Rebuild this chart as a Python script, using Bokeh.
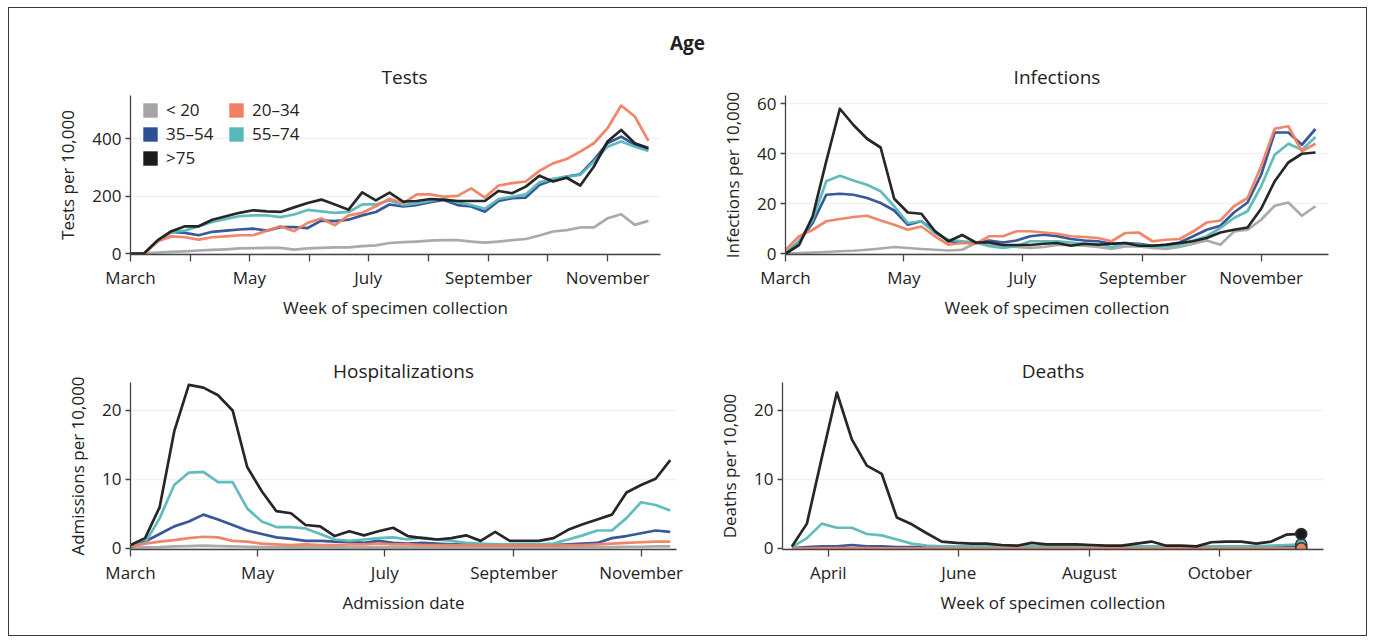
import pandas as pd
from bokeh.plotting import figure
from bokeh.models import Range1d, FixedTicker, Legend, LegendItem, Div
from bokeh.layouts import column, row
from bokeh.embed import file_html
from bokeh.resources import INLINE

FONT = "Open Sans"

AGE_GROUPS = ["< 20", "20–34", "35–54", "55–74", ">75"]
AGE_COLORS = ["#a5a5a5", "#ef8062", "#2d4f93", "#59b8b9", "#1b1b1b"]
DRAW_ORDER = [0, 2, 3, 1, 4]

MONTH_NAMES = ["March", "April", "May", "June", "July", "August",
               "September", "October", "November"]

# ---------------- Tests (weekly, per 10,000) ----------------
tests_start = "2020-03-01"
tests_lt20 = [0, 2, 5, 7, 9, 12, 14, 16, 19, 20, 21, 21, 15, 19, 21, 23, 23, 27, 30, 38,
              41, 43, 46, 48, 48, 43, 39, 43, 48, 52, 64, 78, 83, 92, 92, 124, 138, 101, 115]
tests_20_34 = [0, 0, 44, 61, 58, 50, 58, 61, 65, 65, 81, 96, 79, 108, 123, 100, 134, 143, 166, 192,
               176, 207, 207, 199, 202, 228, 196, 238, 246, 252, 289, 315, 330, 356, 385, 437, 516, 478, 393]
tests_35_54 = [0, 2, 44, 77, 73, 65, 77, 81, 85, 88, 81, 93, 93, 90, 116, 114, 119, 134, 146, 172,
               165, 170, 180, 188, 170, 165, 147, 184, 194, 196, 240, 257, 269, 277, 327, 385, 408, 379, 362]
tests_55_74 = [0, 2, 44, 77, 81, 96, 111, 122, 131, 134, 134, 128, 137, 153, 148, 143, 146, 172, 172, 186,
               170, 176, 184, 191, 180, 170, 157, 191, 199, 207, 249, 261, 269, 275, 321, 373, 391, 373, 358]
tests_75plus = [0, 2, 48, 79, 96, 96, 119, 131, 143, 152, 148, 146, 162, 177, 189, 172, 154, 214, 186, 213,
                182, 184, 191, 188, 184, 184, 184, 219, 211, 234, 272, 252, 265, 238, 304, 391, 431, 385, 368]

# ---------------- Infections ----------------
inf_start = "2020-03-01"
inf_lt20 = [0, 0.3, 0.5, 0.7, 1, 1.2, 1.6, 2.1, 2.7, 2.3, 1.9, 1.6, 1.3, 1.6, 4.3, 3.6, 3, 2.7, 2.3, 2.7,
            3.5, 3.6, 3.2, 2.7, 1.9, 2.9, 2.9, 2.3, 1.9, 2.7, 4, 5.3, 3.6, 8.9, 9.6, 13.6, 19.2, 20.5, 15.2, 19]
inf_20_34 = [1.5, 7, 9.6, 13, 13.9, 14.7, 15.2, 13.3, 11.6, 9.6, 10.9, 7, 3.6, 4.3, 4, 7, 7, 9, 9, 8.5,
             8, 7, 6.7, 6.3, 5, 8.3, 8.5, 5, 5.6, 5.9, 8.9, 12.5, 13.3, 19, 22.3, 35, 50, 51, 41, 44]
inf_35_54 = [0, 5, 12.3, 23.6, 24, 23.6, 22.3, 20.3, 17.3, 11.6, 13, 9, 5, 4.5, 4.3, 5.3, 4.5, 5.3, 7, 7.6,
             7, 5.9, 5.3, 5, 4, 4.3, 4, 3.2, 3.6, 4.5, 7, 9.6, 11.2, 16.5, 20.5, 31.6, 48.5, 48.5, 43.6, 49.9]
inf_55_74 = [0, 5, 13.6, 29, 31.2, 29.3, 27.6, 25, 19, 12.3, 13, 8.3, 5.6, 5, 4.5, 3, 2.3, 3, 5, 5,
             5, 4.5, 4, 4, 2.7, 4, 3.6, 2.9, 2.9, 3.6, 5.3, 7, 10.3, 14.3, 17, 27, 39.6, 44, 41.6, 46.7]
inf_75plus = [0, 3.5, 15, 37, 58, 51.5, 46, 42.5, 22, 16.5, 16, 9, 5, 7.5, 4.5, 4.5, 3.5, 3.5, 3.5, 4,
              4.3, 3.2, 4, 3.6, 4, 4.3, 3.2, 3.2, 3.6, 4.3, 5, 6.3, 8.5, 9.6, 10.5, 18, 29, 36.5, 40, 40.5]

# ---------------- Hospitalizations ----------------
hosp_start = "2020-03-01"
hosp_lt20 = [0.1, 0.15, 0.2, 0.3, 0.35, 0.4, 0.35, 0.3, 0.25, 0.2, 0.2, 0.15, 0.15, 0.15, 0.15, 0.15, 0.15, 0.15, 0.15,
             0.15, 0.15, 0.15, 0.15, 0.15, 0.15, 0.15, 0.15, 0.15, 0.15, 0.15, 0.15, 0.2, 0.2, 0.2, 0.25, 0.25, 0.3, 0.3]
hosp_20_34 = [0.3, 0.7, 1.0, 1.2, 1.5, 1.7, 1.6, 1.1, 1.0, 0.7, 0.6, 0.5, 0.6, 0.5, 0.5, 0.6, 0.6, 0.7, 0.6,
              0.6, 0.5, 0.5, 0.5, 0.5, 0.4, 0.4, 0.4, 0.4, 0.4, 0.4, 0.5, 0.5, 0.6, 0.7, 0.8, 0.9, 1.0, 1.0]
hosp_35_54 = [0.2, 1, 2.1, 3.2, 3.9, 4.9, 4.2, 3.4, 2.6, 2.1, 1.6, 1.4, 1.1, 1.1, 1.0, 1.0, 0.8, 1.1, 0.8,
              0.7, 0.8, 0.7, 0.6, 0.6, 0.5, 0.5, 0.5, 0.5, 0.5, 0.5, 0.6, 0.7, 0.8, 1.5, 1.8, 2.2, 2.6, 2.4]
hosp_55_74 = [0.3, 0.8, 4.4, 9.2, 11, 11.1, 9.6, 9.6, 5.8, 3.9, 3.1, 3.1, 2.9, 2.1, 1.3, 1.1, 1.3, 1.5, 1.6,
              1.3, 1.6, 1.3, 1.1, 0.8, 0.7, 0.6, 0.6, 0.6, 0.6, 0.7, 1.3, 1.9, 2.6, 2.6, 4.4, 6.7, 6.3, 5.5]
hosp_75plus = [0.5, 1.5, 6, 17, 23.7, 23.3, 22.2, 20, 11.8, 8.3, 5.4, 5.1, 3.4, 3.2, 1.8, 2.5, 1.9, 2.5, 3.0,
               1.8, 1.5, 1.3, 1.5, 1.9, 1.1, 2.4, 1.1, 1.1, 1.1, 1.5, 2.7, 3.5, 4.2, 4.9, 8.1, 9.2, 10.1, 12.8]

# ---------------- Deaths ----------------
deaths_start = "2020-03-15"
deaths_lt20 = [0.0] * 35
deaths_20_34 = [0.02, 0.03, 0.05, 0.05, 0.05, 0.04, 0.03, 0.03, 0.02, 0.02, 0.02, 0.02, 0.02, 0.02, 0.02, 0.02, 0.02, 0.02,
                0.02, 0.02, 0.02, 0.02, 0.02, 0.02, 0.02, 0.02, 0.02, 0.02, 0.02, 0.02, 0.02, 0.02, 0.02, 0.03, 0.03]
deaths_35_54 = [0.05, 0.2, 0.3, 0.3, 0.5, 0.3, 0.3, 0.2, 0.2, 0.15, 0.1, 0.1, 0.1, 0.1, 0.1, 0.1, 0.1, 0.1,
                0.1, 0.1, 0.1, 0.1, 0.1, 0.1, 0.1, 0.1, 0.1, 0.1, 0.1, 0.1, 0.1, 0.15, 0.2, 0.3, 0.4]
deaths_55_74 = [0.2, 1.5, 3.6, 3.0, 3.0, 2.1, 1.9, 1.3, 0.7, 0.4, 0.3, 0.3, 0.3, 0.3, 0.3, 0.3, 0.3, 0.3,
                0.3, 0.3, 0.3, 0.3, 0.3, 0.3, 0.3, 0.3, 0.3, 0.3, 0.3, 0.3, 0.3, 0.3, 0.4, 0.5, 0.6]
deaths_75plus = [0.3, 3.6, 13.2, 22.6, 15.8, 12, 10.8, 4.5, 3.5, 2.2, 1.0, 0.8, 0.7, 0.7, 0.5, 0.4, 0.8, 0.6,
                 0.6, 0.6, 0.5, 0.4, 0.4, 0.7, 1.0, 0.4, 0.4, 0.3, 0.9, 1.0, 1.0, 0.7, 1.0, 2.0, 2.1]

YEAR_START = pd.Timestamp("2020-01-01")


def week_days(start, n):
    return list((pd.date_range(start, periods=n, freq="7D") - YEAR_START).days)


MONTH_DAYS = [(pd.Timestamp(f"2020-{m:02d}-01") - YEAR_START).days for m in range(3, 12)]


def panel(title, start, series, x_range, y_range, yticks, frame, borders,
          xlabel, ylabel, tick_idx, label_idx, title_standoff, end_markers=False,
          title_left=None):
    fw, fh = frame
    bl, br, bt, bb = borders
    p = figure(frame_width=fw, frame_height=fh,
               x_range=Range1d(*x_range), y_range=Range1d(*y_range),
               min_border_left=bl, min_border_right=br,
               min_border_top=bt, min_border_bottom=bb,
               output_backend="svg", toolbar_location=None, title=title)
    p.outline_line_color = None
    p.background_fill_color = "white"
    p.border_fill_color = "white"
    if title_left is None:
        p.title.align = "center"
    else:
        p.title.align = "left"
        p.title.offset = title_left
    p.title.text_font = FONT
    p.title.text_font_size = "19px"
    p.title.text_font_style = "normal"
    p.title.text_color = "#222222"
    p.title.standoff = title_standoff

    p.xgrid.visible = False
    p.ygrid.grid_line_color = "#f1f1f1"
    p.ygrid.grid_line_width = 1.5

    ticks = [MONTH_DAYS[i] for i in tick_idx]
    p.xaxis.ticker = FixedTicker(ticks=ticks)
    p.xaxis.major_label_overrides = {MONTH_DAYS[i]: (MONTH_NAMES[i] if i in label_idx else "")
                                     for i in tick_idx}
    p.yaxis.ticker = FixedTicker(ticks=yticks)
    p.xaxis.axis_label = xlabel
    p.yaxis.axis_label = ylabel
    for ax in (p.xaxis[0], p.yaxis[0]):
        ax.axis_line_color = "#444444"
        ax.axis_line_width = 1.3
        ax.major_tick_line_color = "#444444"
        ax.major_tick_line_width = 1.3
        ax.minor_tick_line_color = None
        ax.major_tick_in = 0
        ax.major_label_text_font = FONT
        ax.major_label_text_font_size = "17px"
        ax.major_label_text_color = "#222222"
        ax.axis_label_text_font = FONT
        ax.axis_label_text_font_size = "17px"
        ax.axis_label_text_font_style = "normal"
        ax.axis_label_text_color = "#222222"
    p.xaxis.major_tick_out = 7
    p.yaxis.major_tick_out = 5
    p.xaxis.major_label_standoff = 4
    p.yaxis.major_label_standoff = 4
    p.xaxis.axis_label_standoff = 4
    p.yaxis.axis_label_standoff = 10

    x = week_days(start, len(series[0]))
    for i in DRAW_ORDER:
        p.line(x, series[i], line_color=AGE_COLORS[i], line_width=2.7, line_alpha=0.95,
               line_join="round")
    if end_markers:
        for i in [0, 2, 3, 4, 1]:
            p.scatter([x[-1]], [series[i][-1]], size=11, fill_color=AGE_COLORS[i],
                      line_color="#333333", line_width=1.5)
    return p


# Row 1: frames 159 px tall
p_tests = panel("Tests", tests_start,
                [tests_lt20, tests_20_34, tests_35_54, tests_55_74, tests_75plus],
                (60, 332.2), (-2, 551), [0, 200, 400], (530, 159), (121, 30, 40, 76),
                "Week of specimen collection", "Tests per 10,000",
                list(range(9)), [0, 2, 4, 6, 8], 11, title_left=251)

nan = float("nan")
legend_rs = [p_tests.quad(left=[nan], right=[nan], top=[nan], bottom=[nan],
                          fill_color=c, line_color=None)
             for c in AGE_COLORS]
legend = Legend(items=[LegendItem(label=g, renderers=[r]) for g, r in zip(AGE_GROUPS, legend_rs)],
                orientation="horizontal", ncols=2, location=(11, 85),
                glyph_width=18, glyph_height=18, label_standoff=7, label_width=60,
                label_height=22, spacing=1, padding=0, margin=0,
                border_line_color=None, background_fill_alpha=0,
                label_text_font=FONT, label_text_font_size="17px", label_text_color="#222222")
p_tests.add_layout(legend)

p_inf = panel("Infections", inf_start,
              [inf_lt20, inf_20_34, inf_35_54, inf_55_74, inf_75plus],
              (60, 339.7), (-0.3, 63.3), [0, 20, 40, 60], (543, 159), (95, 38, 40, 76),
              "Week of specimen collection", "Infections per 10,000",
              [0, 2, 4, 6, 8], [0, 2, 4, 6, 8], 11)

# Row 2: frames 167 px tall
p_hosp = panel("Hospitalizations", hosp_start,
               [hosp_lt20, hosp_20_34, hosp_35_54, hosp_55_74, hosp_75plus],
               (60, 322), (-0.15, 24.05), [0, 10, 20], (546, 167), (121, 14, 52, 86),
               "Admission date", "Admissions per 10,000",
               [0, 2, 4, 6, 8], [0, 2, 4, 6, 8], -2)

p_deaths = panel("Deaths", deaths_start,
                 [deaths_lt20, deaths_20_34, deaths_35_54, deaths_55_74, deaths_75plus],
                 (69.6, 322.4), (-0.15, 24.05), [0, 10, 20], (541, 167), (92, 43, 52, 86),
                 "Week of specimen collection", "Deaths per 10,000",
                 [1, 3, 5, 7], [1, 3, 5, 7], -2, end_markers=True)

header = Div(text=("<div style=\"font-family:'Open Sans';font-weight:bold;font-size:19px;"
                   "color:#222;text-align:center;padding-top:24px;line-height:22px;"
                   "width:1357px;\">Age</div>"),
             width=1357, height=47, margin=0)

layout = column(header, row(p_tests, p_inf), row(p_hosp, p_deaths),
                margin=(7, 0, 0, 8),
                styles={"border": "1px solid #3a3a3a", "background-color": "white"})

open("out.html", "w").write(file_html(layout, INLINE))
